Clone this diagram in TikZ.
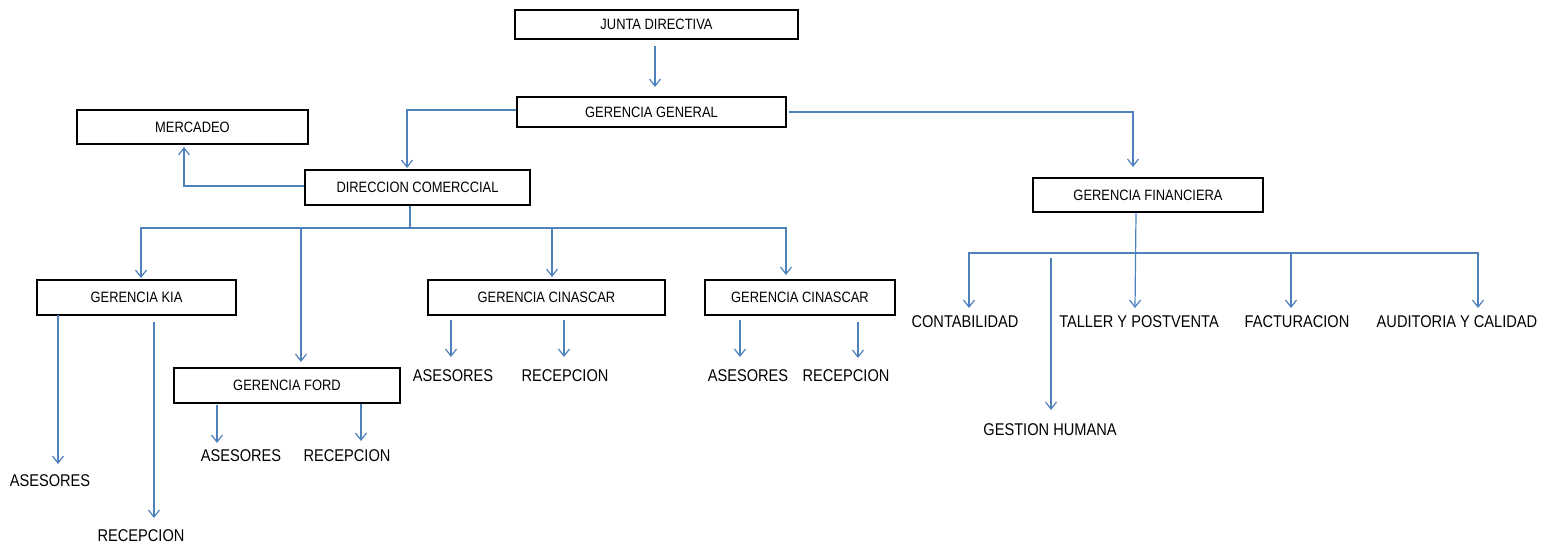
\documentclass[tikz,border=0pt]{standalone}
\usepackage{fontspec}
\setmainfont{Liberation Sans}[FakeStretch=0.86]
\usetikzlibrary{arrows.meta}
\definecolor{lnblue}{RGB}{79,129,189}
\begin{document}
\begin{tikzpicture}[x=1pt,y=-1pt,
  box/.style={draw=black,line width=2pt,fill=white,inner sep=0pt,font=\fontsize{15}{16}\selectfont},
  lab/.style={inner sep=0pt,font=\fontsize{17}{18}\selectfont},
  conn/.style={draw=lnblue,line width=1.2pt},
  arr/.style={conn,-{Straight Barb[length=7pt,width=11pt]}}]
\useasboundingbox (0,0) rectangle (1541,544);
% boxes
\node[box,minimum width=283pt,minimum height=29pt] (jd) at (656.5,24.5) {JUNTA DIRECTIVA};
\node[box,minimum width=269pt,minimum height=30pt] (gg) at (651.5,112) {GERENCIA GENERAL};
\node[box,minimum width=231pt,minimum height=34pt] (mer) at (192.5,127) {MERCADEO};
\node[box,minimum width=225pt,minimum height=35pt] (dc) at (417.5,187.5) {DIRECCION COMERCCIAL};
\node[box,minimum width=230pt,minimum height=34pt] (gf) at (1148,195) {GERENCIA FINANCIERA};
\node[box,minimum width=199pt,minimum height=35pt] (kia) at (136.5,297.5) {GERENCIA KIA};
\node[box,minimum width=226pt,minimum height=35pt] (ford) at (287,385.5) {GERENCIA FORD};
\node[box,minimum width=237pt,minimum height=35pt] (cin1) at (546.5,297.5) {GERENCIA CINASCAR};
\node[box,minimum width=190pt,minimum height=35pt] (cin2) at (800,297.5) {GERENCIA CINASCAR};
% labels
\node[lab] (kA) at (50,481) {ASESORES};
\node[lab] (kR) at (141,536) {RECEPCION};
\node[lab] (fA) at (241,456) {ASESORES};
\node[lab] (fR) at (347,456) {RECEPCION};
\node[lab] (c1A) at (453,376) {ASESORES};
\node[lab] (c1R) at (565,376) {RECEPCION};
\node[lab] (c2A) at (748,376) {ASESORES};
\node[lab] (c2R) at (846,376) {RECEPCION};
\node[lab] (cont) at (965,322) {CONTABILIDAD};
\node[lab] (gh) at (1050,430) {GESTION HUMANA};
\node[lab] (tal) at (1139,322) {TALLER Y POSTVENTA};
\node[lab] (fac) at (1297,322) {FACTURACION};
\node[lab] (aud) at (1457,322) {AUDITORIA Y CALIDAD};
% top connectors
\draw[arr,shorten <=6pt,shorten >=9pt] ([xshift=-1.5pt]jd.south) -- ([xshift=3.5pt]gg.north);
\draw[arr,shorten >=1pt] ([yshift=2pt]gg.west) -| ([xshift=-10.5pt]dc.north);
\draw[arr,shorten >=10pt] ([xshift=2pt]gg.east) -| ([xshift=-15pt]gf.north);
\draw[arr,shorten >=2pt] ([yshift=1.5pt]dc.west) -| ([xshift=-8.5pt]mer.south);
% commercial tree
\coordinate (bus) at (410,228);
\draw[conn] ([xshift=-7.5pt]dc.south) -- (bus);
\draw[arr,shorten >=1pt] (bus) -| ([xshift=4.5pt]kia.north);
\draw[arr,shorten >=5pt] (bus) -| ([xshift=14pt]ford.north);
\draw[arr,shorten >=2pt] (bus) -| ([xshift=5.5pt]cin1.north);
\draw[arr,shorten >=4pt] (bus) -| ([xshift=-14pt]cin2.north);
% sub arrows
\draw[arr] (58,315) -- (58,464);
\draw[arr] (154,322) -- (154,518);
\draw[arr] (217,405) -- (217,443);
\draw[arr] (361,404) -- (361,441);
\draw[arr] (451,320) -- (451,357);
\draw[arr] (564,320) -- (564,357);
\draw[arr] (740,320) -- (740,357);
\draw[arr] (858,322) -- (858,358);
% financial tree
\coordinate (fbus) at (1136,253);
\draw[arr] ([xshift=-12pt]gf.south) -- (1135,308);
\draw[arr] (fbus) -| (969,308);
\draw[arr] (fbus) -| (1291,308);
\draw[arr] (fbus) -| (1478,308);
\draw[arr] (1051,258) -- (1051,410);
\end{tikzpicture}
\end{document}
